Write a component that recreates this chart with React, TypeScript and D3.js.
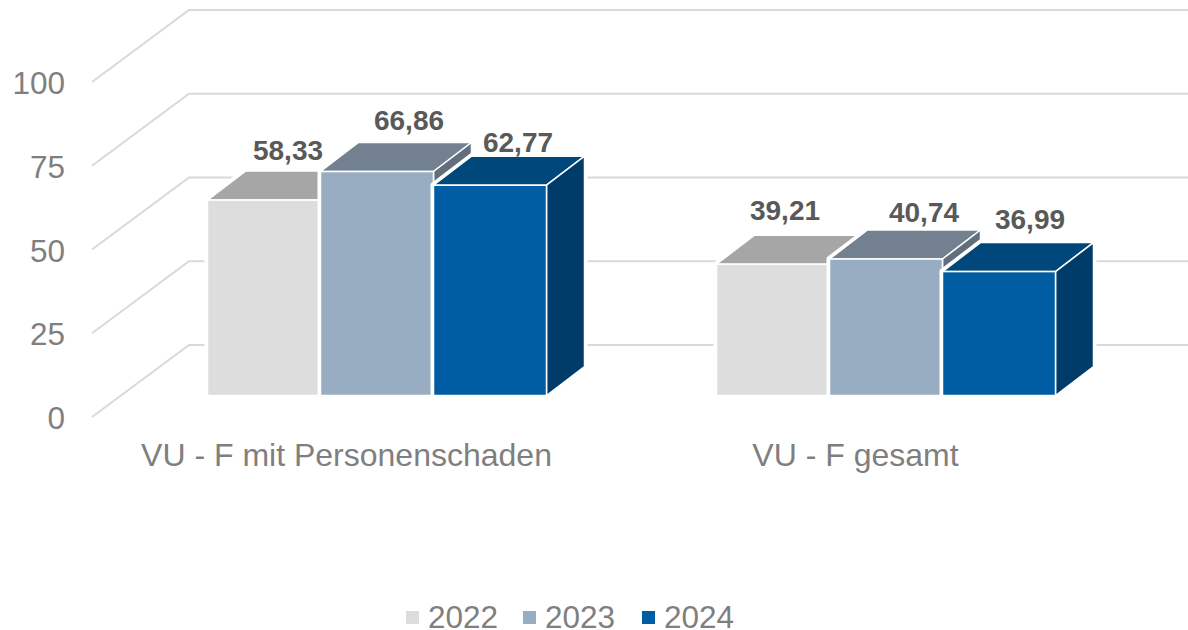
import * as d3 from "d3";

const categories = ["VU - F mit Personenschaden", "VU - F gesamt"];
const years = ["2022", "2023", "2024"];
const values2022 = [58.33, 39.21];
const values2023 = [66.86, 40.74];
const values2024 = [62.77, 36.99];
const yTicks = [0, 25, 50, 75, 100];

const seriesValues = [values2022, values2023, values2024];

// front, top and side face of each year's bar
const frontColours = ["#dddddd", "#98adc2", "#005da3"];
const topColours = ["#a6a6a6", "#72808f", "#00477b"];
const sideColours = ["#a6a6a6", "#626e7b", "#003c69"];

const width = 1188;
const height = 630;
const font = "'Liberation Sans', Arial, sans-serif";

// the value axis sits on the front edge of the floor, the gridlines on the back wall
const y = d3.scaleLinear().domain([0, 100]).range([417, 82]);
const axisX = 92;
const wallDx = 97;
const wallDy = 72;

// bars stand a little behind the front edge
const barLift = 21.5;
const depthDx = 38;
const depthDy = 29;

const x0 = d3.scaleBand().domain(categories).range([122, 1140]);
const x1 = d3.scaleBand().domain(years).range([85.5, 424.5]);

// data labels were placed by hand in the original, so each has its own nudge
const labelNudge = [
  [[24, -40], [32, -42], [28, -33]],
  [[12, -44], [38, -37], [31, -43]],
];

const legendX = [406, 523, 642];
const fmt = (v: number) => v.toFixed(2).replace(".", ",");
const pts = (p: number[][]) => p.map((d) => d.join(",")).join(" ");

export default function App() {
  return (
    <svg
      width={width}
      height={height}
      viewBox={`0 0 ${width} ${height}`}
      style={{ position: "absolute", top: 0, left: 0, background: "#fff" }}
      fontFamily={font}
    >
      {yTicks.map((t) => (
        <g key={t}>
          <polyline
            points={pts([
              [axisX, y(t)],
              [axisX + wallDx, y(t) - wallDy],
              [width, y(t) - wallDy],
            ])}
            fill="none"
            stroke="#d9d9d9"
            strokeWidth={2}
          />
          <text x={65} y={y(t) + 1} dy="0.35em" textAnchor="end" fontSize={31.5} fill="#7f7f7f">
            {t}
          </text>
        </g>
      ))}

      {categories.map((c, ci) => {
        const yBase = y(0) - barLift;
        return (
          <g key={c}>
            {years.map((yr, si) => {
              const left = x0(c)! + x1(yr)!;
              const right = left + x1.bandwidth();
              const top = y(seriesValues[si][ci]) - barLift;
              const topFace = [
                [left, top],
                [left + depthDx, top - depthDy],
                [right + depthDx, top - depthDy],
                [right, top],
              ];
              const sideFace = [
                [right, top],
                [right + depthDx, top - depthDy],
                [right + depthDx, yBase - depthDy],
                [right, yBase],
              ];
              const outline = [
                [left, yBase],
                [left, top],
                [left + depthDx, top - depthDy],
                [right + depthDx, top - depthDy],
                [right + depthDx, yBase - depthDy],
                [right, yBase],
              ];
              return (
                <g key={yr}>
                  {/* white halo that cuts the gridlines short around the bar */}
                  <polygon points={pts(outline)} fill="#fff" stroke="#fff" strokeWidth={6} />
                  <polygon points={pts(topFace)} fill={topColours[si]} stroke="#fff" strokeWidth={1.5} />
                  <polygon points={pts(sideFace)} fill={sideColours[si]} stroke="#fff" strokeWidth={1.5} />
                  <rect
                    x={left}
                    y={top}
                    width={right - left}
                    height={yBase - top}
                    fill={frontColours[si]}
                    stroke="#fff"
                    strokeWidth={1.5}
                  />
                </g>
              );
            })}
            <text
              x={x0(c)! + x0.bandwidth() / 2 - 30}
              y={466}
              textAnchor="middle"
              fontSize={32}
              fill="#7f7f7f"
            >
              {c}
            </text>
          </g>
        );
      })}

      {/* labels go on last so the neighbouring bars never cover them */}
      {categories.map((c, ci) =>
        years.map((yr, si) => {
          const v = seriesValues[si][ci];
          const [nx, ny] = labelNudge[ci][si];
          return (
            <text
              key={c + yr}
              x={x0(c)! + x1(yr)! + x1.bandwidth() / 2 + nx}
              y={y(v) - barLift + ny}
              textAnchor="middle"
              fontSize={28}
              fontWeight="bold"
              fill="#595959"
            >
              {fmt(v)}
            </text>
          );
        })
      )}

      {years.map((yr, si) => (
        <g key={yr}>
          <rect x={legendX[si]} y={611} width={13} height={13} fill={frontColours[si]} />
          <text x={legendX[si] + 22} y={628} fontSize={31.5} fill="#7f7f7f">
            {yr}
          </text>
        </g>
      ))}
    </svg>
  );
}
